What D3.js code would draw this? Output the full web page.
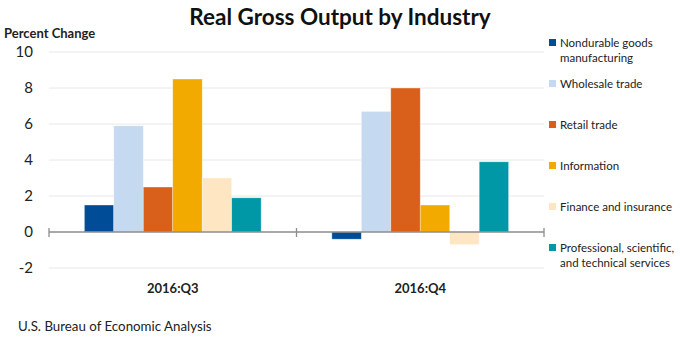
<!DOCTYPE html>
<html>
<head>
<meta charset="utf-8">
<script src="https://cdn.jsdelivr.net/npm/d3@7"></script>
<style>
  body { margin: 0; background: #fff; }
  svg { font-family: Lato, "Open Sans", sans-serif; }
</style>
</head>
<body>
<div id="graph"></div>
<script>
var quarters = ['2016:Q3', '2016:Q4']
var industries = [
  'Nondurable goods manufacturing',
  'Wholesale trade',
  'Retail trade',
  'Information',
  'Finance and insurance',
  'Professional, scientific, and technical services'
]
var legendLines = [
  ['Nondurable goods', 'manufacturing'],
  ['Wholesale trade'],
  ['Retail trade'],
  ['Information'],
  ['Finance and insurance'],
  ['Professional, scientific,', 'and technical services']
]
var colors = ['#004c97', '#c5d9f0', '#d9601a', '#f2a900', '#ffe6c2', '#0097a7']
var q3 = [1.5, 5.9, 2.5, 8.5, 3.0, 1.9]
var q4 = [-0.4, 6.7, 8.0, 1.5, -0.7, 3.9]
var yTicks = [-2, 0, 2, 4, 6, 8, 10]

var width = 680, height = 340
var plot = {left: 49, right: 544, top: 52, bottom: 268}

var data = quarters.map((q, i) => ({
  q, vals: (i ? q4 : q3).map((v, j) => ({ind: industries[j], v, j}))
}))

var svg = d3.select('#graph').append('svg')
  .attr('width', width).attr('height', height)

var x0 = d3.scaleBand().domain(quarters).range([plot.left, plot.right])
var x1 = d3.scaleBand().domain(industries)
  .range([0, x0.bandwidth()]).paddingOuter(1.2).paddingInner(0)
var y = d3.scaleLinear().domain([-2, 10]).range([plot.bottom, plot.top])

// gridlines
svg.append('g').selectAll('line').data(yTicks.filter(d => d != 0)).join('line')
  .attr('x1', plot.left).attr('x2', plot.right)
  .attr('y1', d => y(d)).attr('y2', d => y(d))
  .attr('stroke', '#e8e8e8').attr('stroke-width', 1)

// y labels
svg.append('g').selectAll('text').data(yTicks).join('text')
  .attr('x', 33).attr('y', d => y(d) + 5)
  .attr('text-anchor', 'end')
  .attr('font-size', 15).attr('fill', '#222')
  .text(d => d)

// bars
svg.append('g').selectAll('g').data(data).join('g')
  .attr('transform', d => `translate(${x0(d.q)},0)`)
  .selectAll('rect').data(d => d.vals).join('rect')
  .attr('x', d => x1(d.ind))
  .attr('width', x1.bandwidth())
  .attr('y', d => y(Math.max(0, d.v)))
  .attr('height', d => Math.abs(y(d.v) - y(0)))
  .attr('fill', d => colors[d.j])
  .attr('stroke', '#fff').attr('stroke-opacity', 0.5).attr('stroke-width', 0.7)

// zero axis with ticks
var axis = svg.append('g').attr('stroke', '#8c8c8c').attr('stroke-width', 1.3)
axis.append('line')
  .attr('x1', plot.left).attr('x2', plot.right)
  .attr('y1', y(0)).attr('y2', y(0))
var tickX = quarters.map(q => x0(q)).concat([plot.right])
axis.selectAll('.tk').data(tickX).join('line')
  .attr('x1', d => d).attr('x2', d => d)
  .attr('y1', y(0) - 4).attr('y2', y(0) + 5)

// category labels
svg.append('g').selectAll('text').data(quarters).join('text')
  .attr('x', d => x0(d) + x0.bandwidth() / 2).attr('y', 293)
  .attr('text-anchor', 'middle')
  .attr('font-size', 13).attr('font-weight', 'bold').attr('fill', '#222')
  .text(d => d)

// title and axis title
svg.append('text')
  .attr('x', 340).attr('y', 25).attr('text-anchor', 'middle')
  .attr('font-size', 22.5).attr('font-weight', 'bold').attr('fill', '#111')
  .text('Real Gross Output by Industry')

svg.append('text')
  .attr('x', 4).attr('y', 38)
  .attr('font-size', 13).attr('font-weight', 'bold').attr('fill', '#222')
  .text('Percent Change')

// legend
var legY = [47, 88, 129, 170, 211, 252]
var leg = svg.append('g').selectAll('g').data(industries).join('g')
  .attr('transform', (d, i) => `translate(549,${legY[i]})`)
leg.append('rect')
  .attr('x', 0).attr('y', -8).attr('width', 7).attr('height', 7)
  .attr('fill', (d, i) => colors[i])
leg.append('text')
  .attr('x', 11).attr('y', 0)
  .attr('font-size', 11.5).attr('fill', '#222')
  .selectAll('tspan').data((d, i) => legendLines[i]).join('tspan')
  .attr('x', 11).attr('dy', (d, i) => i ? 15 : 0)
  .text(d => d)

// source
svg.append('text')
  .attr('x', 18).attr('y', 331)
  .attr('font-size', 13.3).attr('fill', '#222')
  .text('U.S. Bureau of Economic Analysis')
</script>
</body>
</html>
